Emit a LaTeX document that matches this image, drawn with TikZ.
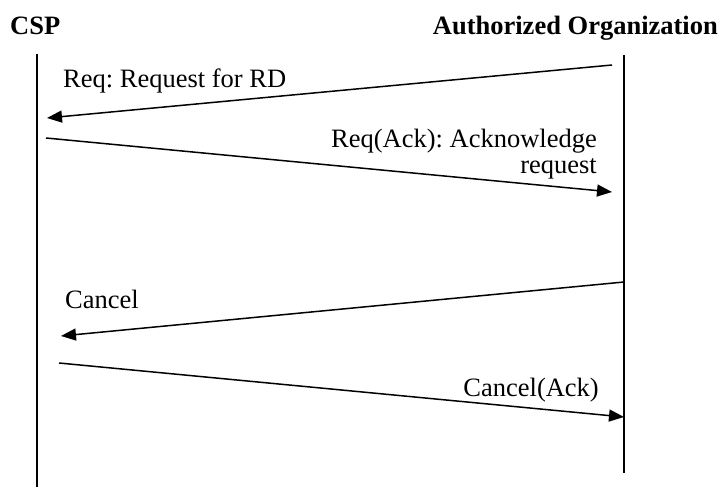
\documentclass[tikz,border=0pt]{standalone}
\usepackage{fontspec}
\setmainfont{Liberation Serif}
\usetikzlibrary{arrows.meta}
\frenchspacing
\begin{document}
\begin{tikzpicture}[x=1pt,y=-1pt,
  lbl/.style={inner sep=0pt,font=\fontsize{26.5}{30}\selectfont},
  hdr/.style={lbl,font=\fontsize{26.5}{30}\selectfont\bfseries},
  life/.style={line width=1.5pt},
  msg/.style={line width=1.5pt,-{Triangle[length=15pt,width=12pt]}}]
\useasboundingbox (0,0) rectangle (724,487);
% headers
\node[hdr,anchor=base west] (csp) at (10,35) {CSP};
\node[hdr,anchor=base east] (ao) at (718,35) {Authorized Organization};
% lifelines
\coordinate (cspT) at (37,54);
\coordinate (cspB) at (37,487);
\coordinate (aoT) at (624,55);
\coordinate (aoB) at (624,473);
\draw[life] (cspT) -- (cspB);
\draw[life] (aoT) -- (aoB);
% message endpoints
\coordinate (m1s) at (612,65);  \coordinate (m1e) at (47,118);
\coordinate (m2s) at (46,138);  \coordinate (m2e) at (612,192);
\coordinate (m3s) at (624,282); \coordinate (m3e) at (61,336);
\coordinate (m4s) at (59,363);  \coordinate (m4e) at (624,417);
\draw[msg] (m1s) -- (m1e);
\draw[msg] (m2s) -- (m2e);
\draw[msg] (m3s) -- (m3e);
\draw[msg] (m4s) -- (m4e);
% labels
\node[lbl,anchor=base west] (l1) at (63,88) {Req: Request for RD};
\node[lbl,anchor=base east] (l2a) at (597,147) {Req(Ack): Acknowledge};
\node[lbl,anchor=base east] (l2b) at (597,173) {request};
\node[lbl,anchor=base west] (l3) at (65,308) {Cancel};
\node[lbl,anchor=base east] (l4) at (599,396) {Cancel(Ack)};
\end{tikzpicture}
\end{document}
